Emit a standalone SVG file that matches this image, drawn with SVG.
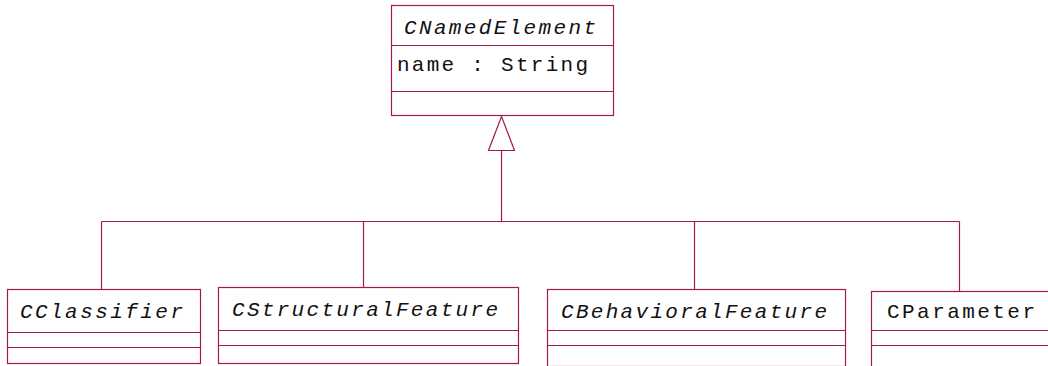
<svg xmlns="http://www.w3.org/2000/svg" width="1048" height="366" viewBox="0 0 1048 366">
<style>
.box{fill:#fff;stroke:#a8184f;stroke-width:1.2}
.ln{fill:none;stroke:#a8184f;stroke-width:1.2}
.t{font-family:"Liberation Mono","Courier New",monospace;font-size:21px;fill:#111}
.i{font-style:italic}
</style>
<rect width="1048" height="366" fill="#fff"/>
<g id="connectors">
<polygon class="box" points="501.5,116.5 488.5,150.5 514.5,150.5"/>
<line class="ln" x1="501.5" y1="150.5" x2="501.5" y2="221.5"/>
<line class="ln" x1="101.5" y1="221.5" x2="959.5" y2="221.5"/>
<line class="ln" x1="101.5" y1="221.5" x2="101.5" y2="289.5"/>
<line class="ln" x1="363.5" y1="221.5" x2="363.5" y2="287.5"/>
<line class="ln" x1="694.5" y1="221.5" x2="694.5" y2="289.5"/>
<line class="ln" x1="959.5" y1="221.5" x2="959.5" y2="291.5"/>
</g>
<g id="CNamedElement">
<rect class="box" x="391.5" y="5.5" width="222" height="110"/>
<line class="ln" x1="391.5" y1="45.5" x2="613.5" y2="45.5"/>
<line class="ln" x1="391.5" y1="91.5" x2="613.5" y2="91.5"/>
<text class="t i" x="404" y="34" textLength="192" lengthAdjust="spacing">CNamedElement</text>
<text class="t" x="397" y="71" textLength="191" lengthAdjust="spacing">name : String</text>
</g>
<g id="CClassifier">
<rect class="box" x="7.5" y="289.5" width="193" height="74"/>
<line class="ln" x1="7.5" y1="332.5" x2="200.5" y2="332.5"/>
<line class="ln" x1="7.5" y1="347.5" x2="200.5" y2="347.5"/>
<text class="t i" x="20" y="318" textLength="163" lengthAdjust="spacing">CClassifier</text>
</g>
<g id="CStructuralFeature">
<rect class="box" x="218.5" y="287.5" width="300" height="76"/>
<line class="ln" x1="218.5" y1="330.5" x2="518.5" y2="330.5"/>
<line class="ln" x1="218.5" y1="345.5" x2="518.5" y2="345.5"/>
<text class="t i" x="232" y="316" textLength="266" lengthAdjust="spacing">CStructuralFeature</text>
</g>
<g id="CBehavioralFeature">
<rect class="box" x="547.5" y="289.5" width="298" height="77"/>
<line class="ln" x1="547.5" y1="330.5" x2="845.5" y2="330.5"/>
<line class="ln" x1="547.5" y1="345.5" x2="845.5" y2="345.5"/>
<text class="t i" x="561" y="318" textLength="266" lengthAdjust="spacing">CBehavioralFeature</text>
</g>
<g id="CParameter">
<rect class="box" x="871.5" y="291.5" width="190" height="80"/>
<line class="ln" x1="871.5" y1="330.5" x2="1048" y2="330.5"/>
<line class="ln" x1="871.5" y1="345.5" x2="1048" y2="345.5"/>
<text class="t" x="887" y="318" textLength="148" lengthAdjust="spacing">CParameter</text>
</g>
</svg>
